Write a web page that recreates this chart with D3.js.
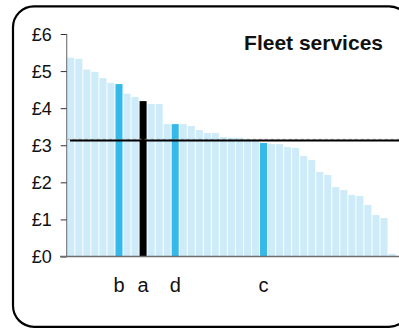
<!DOCTYPE html>
<html>
<head>
<meta charset="utf-8">
<script src="https://cdn.jsdelivr.net/npm/d3@7"></script>
<style>
html,body{margin:0;padding:0;background:#fff;}
svg{display:block;}
text{font-family:"Liberation Sans",Arial,sans-serif;}
</style>
</head>
<body>
<svg id="chart" width="399" height="329"></svg>
<script>
const values = [5.36,5.33,5.04,4.98,4.81,4.68,4.65,4.39,4.30,4.19,4.11,4.11,3.57,3.57,3.57,3.52,3.41,3.33,3.33,3.22,3.20,3.20,3.16,3.15,3.06,3.03,3.03,2.95,2.93,2.71,2.60,2.28,2.20,1.87,1.79,1.66,1.63,1.39,1.12,1.04,0.07];
const labels = {6:"b", 9:"a", 13:"d", 24:"c"};
const highlight = {6:"blue", 9:"black", 13:"blue", 24:"blue"};
const average = 3.13;
const yTicks = [0,1,2,3,4,5,6];
const title = "Fleet services";

const svg = d3.select("#chart");
const colors = {normal:"#cdebf8", blue:"#35b9e9", black:"#000000"};

svg.append("rect").attr("x",13).attr("y",6.3).attr("width",397).attr("height",320.5)
  .attr("rx",21).attr("ry",21).attr("fill","#fff").attr("stroke","#000").attr("stroke-width",2.2);

const idx = d3.range(values.length);
const x = d3.scaleBand().domain(idx).range([66.8, 66.8 + values.length*8.03])
  .paddingInner(0.125).paddingOuter(0.0625);
const y = d3.scaleLinear().domain([0,6]).range([256.5,34]);

// bars
svg.append("g").selectAll("rect").data(idx).join("rect")
  .attr("x", i => x(i))
  .attr("y", i => y(values[i]))
  .attr("width", x.bandwidth())
  .attr("height", i => y(0) - y(values[i]))
  .attr("fill", i => colors[highlight[i] || "normal"]);

// y axis
const yAxis = d3.axisLeft(y).tickValues(yTicks).tickSize(6).tickPadding(9).tickFormat(d => "£" + d);
const gy = svg.append("g").attr("transform","translate(66.7,0)").call(yAxis);
gy.select(".domain").attr("stroke","#7a7a7a").attr("stroke-width",1.2).attr("d","M0,34V257");
gy.selectAll(".tick line").attr("stroke","#333").attr("stroke-width",1);
gy.selectAll(".tick text").attr("font-size",18).attr("fill","#111")
  .attr("font-family","'Liberation Sans',Arial,sans-serif").attr("dy","0.36em");

// x baseline
svg.append("line").attr("x1",60).attr("x2",399).attr("y1",y(0)).attr("y2",y(0))
  .attr("stroke","#6e6e6e").attr("stroke-width",1.4);

// average line
svg.append("line").attr("x1",66.7).attr("x2",399).attr("y1",y(average)-1.1).attr("y2",y(average)-1.1)
  .attr("stroke","#aaa").attr("stroke-width",1).attr("stroke-dasharray","3,3");
svg.append("line").attr("x1",70).attr("x2",399).attr("y1",y(average)).attr("y2",y(average))
  .attr("stroke","#000").attr("stroke-width",2);

// category labels
svg.append("g").selectAll("text").data(Object.keys(labels).map(Number)).join("text")
  .attr("x", i => x(i) + x.bandwidth()/2)
  .attr("y", 291.5)
  .attr("text-anchor","middle")
  .attr("font-size",20)
  .attr("fill","#111")
  .text(i => labels[i]);

// title
svg.append("text").attr("x",383).attr("y",50).attr("text-anchor","end")
  .attr("font-size",21).attr("font-weight","bold").attr("fill","#111").text(title);
</script>
</body>
</html>
